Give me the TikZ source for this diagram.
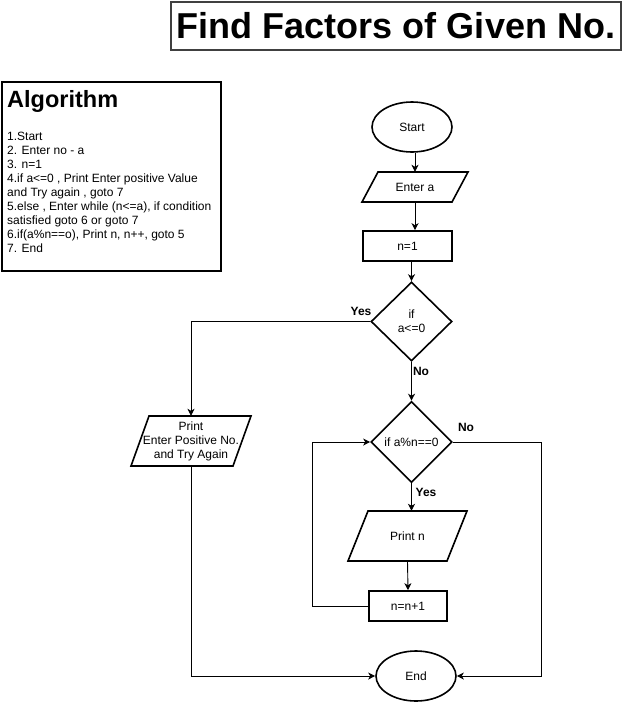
\documentclass[tikz,border=0pt]{standalone}
\usepackage{fontspec}
\setmainfont{Liberation Sans}
\usetikzlibrary{arrows.meta,shapes.geometric}
\begin{document}
\begin{tikzpicture}[x=1pt,y=-1pt,
 shp/.style={line width=1.6pt},
 boxnode/.style={draw, line width=1.6pt, font=\fontsize{12}{14}\selectfont, inner sep=0pt, align=center},
 plain/.style={inner sep=0pt, font=\fontsize{12}{14}\selectfont, align=center},
 conn/.style={line width=0.9pt, -{Stealth[length=7pt,width=7pt,inset=2pt]}},
 lbl/.style={font=\bfseries\fontsize{12}{14}\selectfont, inner sep=0pt}]
\useasboundingbox (0,0) rectangle (623,702);

% title
\node[draw=black!75, line width=1.6pt, minimum width=450pt, minimum height=48pt, inner sep=0pt,
      font=\bfseries\fontsize{36}{40}\selectfont] (title) at (396,26) {Find Factors of Given No.};

% algorithm box
\node[draw, line width=1.8pt, minimum width=219pt, minimum height=189pt, inner sep=0pt] (algbox) at (111.5,176.5) {};
\node[anchor=north west, inner sep=0pt, font=\bfseries\fontsize{23.5}{26}\selectfont] (algtitle) at (7,90) {Algorithm};
\node[anchor=north west, inner sep=0pt, align=left, font=\fontsize{12}{14}\selectfont] (algbody) at (7,131.5)
 {1.Start\\2. Enter no - a\\3. n=1\\4.if a<=0 , Print Enter positive Value\\and Try again , goto 7\\5.else , Enter while (n<=a), if condition\\satisfied goto 6 or goto 7\\6.if(a\%n==o), Print n, n++, goto 5\\7. End};

% flowchart nodes
\node[boxnode, ellipse, minimum width=80pt, minimum height=50pt] (start) at (412,127) {Start};

\node[plain, minimum width=90pt, minimum height=30pt] (enter) at (415,187) {Enter a};
\draw[shp] (362,202) -- (378,172) -- (468,172) -- (452,202) -- cycle;

\node[boxnode, minimum width=89pt, minimum height=30pt] (n1) at (407.5,246) {n=1};

\node[boxnode, diamond, minimum width=81pt, minimum height=79pt] (d1) at (411.5,321.5) {if\\a<=0};

\node[boxnode, diamond, minimum width=81pt, minimum height=81pt] (d2) at (411.5,442) {if a\%n==0};

\node[plain, minimum width=100pt, minimum height=50pt] (prt) at (191,441) {Print\\Enter Positive No.\\and Try Again};
\draw[shp] (131,466) -- (149,416) -- (251,416) -- (233,466) -- cycle;

\node[plain, minimum width=80pt, minimum height=50pt] (pn) at (407.5,536) {Print n};
\draw[shp] (348,561) -- (368,511) -- (467,511) -- (447,561) -- cycle;

\node[boxnode, minimum width=78pt, minimum height=30pt] (n2) at (408,606) {n=n+1};

\node[boxnode, ellipse, minimum width=80pt, minimum height=50pt] (endn) at (416,676) {End};

\coordinate (lp) at (312,0);
\coordinate (rp) at (541,0);

% connectors
\draw[conn] (start.south -| enter.north) -- (enter.north);
\draw[conn] (enter.south) -- (enter.south |- n1.north);
\draw[conn] (n1.south -| d1.north) -- (d1.north);
\draw[conn] (d1.west) -| (prt.north);
\draw[conn] (d1.south) -- (d2.north);
\draw[conn] (d2.south) -- (d2.south |- pn.north);
\draw[conn] (pn.south) -- (n2.north);
\draw[conn] (n2.west) -- (n2.west -| lp) -- (d2.west -| lp) -- (d2.west);
\draw[conn] (d2.east) -- (d2.east -| rp) -- (endn.east -| rp) -- (endn.east);
\draw[conn] (prt.south) |- (endn.west);

% labels
\node[lbl] (yes1) at (361,311) {Yes};
\node[lbl] (no1) at (421,371) {No};
\node[lbl] (no2) at (466,427) {No};
\node[lbl] (yes2) at (426,492) {Yes};
\end{tikzpicture}
\end{document}
